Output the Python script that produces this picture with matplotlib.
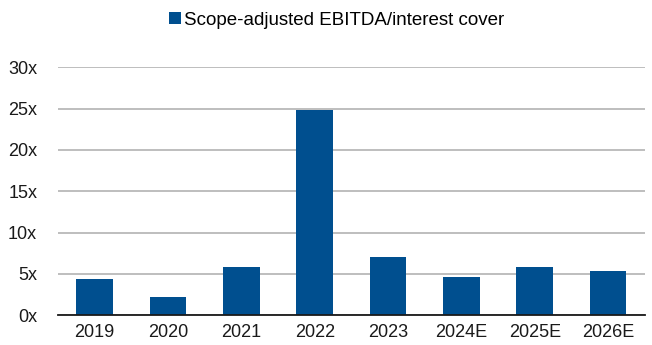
import numpy as np
import matplotlib
matplotlib.use("Agg")
from matplotlib import pyplot as plt

years = ['2019', '2020', '2021', '2022', '2023', '2024E', '2025E', '2026E']
cover = [4.4, 2.2, 5.9, 24.8, 7.1, 4.6, 5.9, 5.4]
yticks = [0, 5, 10, 15, 20, 25, 30]

plt.rcParams['font.family'] = ['Liberation Sans', 'DejaVu Sans']

fig = plt.figure(figsize=(6.52, 3.45), dpi=100)
ax = fig.add_axes([0.089, 0.086, 0.9, 0.719])

x = np.arange(len(years))
ax.bar(x, cover, width=0.5, color='#004f8f', label='Scope-adjusted EBITDA/interest cover', zorder=3)

ax.set_xlim(-0.5, len(years) - 0.5)
ax.set_ylim(0, 30)
ax.set_yticks(yticks)
ax.set_yticklabels([f'{t}x' for t in yticks])
ax.set_xticks(x)
ax.set_xticklabels(years)
ax.tick_params(axis='both', length=0, labelsize=13, colors='#1a1a1a')
ax.tick_params(axis='y', pad=15)
ax.tick_params(axis='x', pad=6)
ax.grid(axis='y', color='#b3b3b3', linewidth=1.2, zorder=0)
for s in ['top', 'right', 'left']:
    ax.spines[s].set_visible(False)
ax.spines['bottom'].set_color('#1a1a1a')
ax.spines['bottom'].set_linewidth(1.3)
ax.spines['bottom'].set_zorder(4)

fig.legend(loc='upper center', bbox_to_anchor=(0.517, 1.015), frameon=False, fontsize=13.5,
           handlelength=0.6, handleheight=0.6, handletextpad=0.2)

fig.savefig('out.png', dpi=100)
